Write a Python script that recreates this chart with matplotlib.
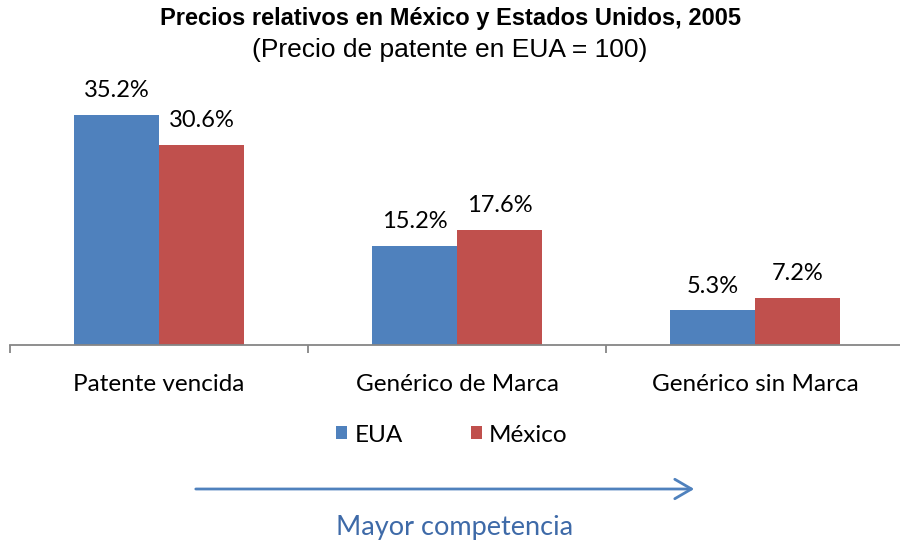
import matplotlib
matplotlib.use('Agg')
import matplotlib.pyplot as plt
import numpy as np

categorias = ['Patente vencida', 'Genérico de Marca', 'Genérico sin Marca']
eua = [35.2, 15.2, 5.3]
mexico = [30.6, 17.6, 7.2]
etiquetas_eua = ['35.2%', '15.2%', '5.3%']
etiquetas_mex = ['30.6%', '17.6%', '7.2%']

c_eua = '#4F81BD'
c_mex = '#C0504D'
fuente = ['Lato', 'DejaVu Sans']

fig = plt.figure(figsize=(9, 5.44), dpi=100)
# axes in figure pixels: x 10..904, baseline at y=345
ax = fig.add_axes([10/900, 1-345/544, 894/900, 260/544])
x = np.arange(len(categorias))
w = 0.285
b1 = ax.bar(x - w/2, eua, w, color=c_eua, label='EUA')
b2 = ax.bar(x + w/2, mexico, w, color=c_mex, label='México')
ax.set_xlim(-0.5, 2.5)
ax.set_ylim(0, 260/6.53)

for bars, labs in ((b1, etiquetas_eua), (b2, etiquetas_mex)):
    for r, t in zip(bars, labs):
        ax.annotate(t, (r.get_x() + r.get_width()/2, r.get_height()),
                    xytext=(0, 10), textcoords='offset points', ha='center', va='bottom',
                    fontsize=17, family=fuente, color='#000000')

for s in ['top', 'right', 'left']:
    ax.spines[s].set_visible(False)
ax.spines['bottom'].set_color('#868686')
ax.spines['bottom'].set_linewidth(1.3)
ax.set_yticks([])
ax.set_xticks([-0.5, 0.5, 1.5, 2.5])
ax.set_xticklabels([])
ax.set_xticks(x, minor=True)
ax.set_xticklabels(categorias, minor=True, fontsize=17.5, family=fuente)
ax.tick_params(axis='x', which='major', length=6, width=1.3, color='#868686', direction='out')
ax.tick_params(axis='x', which='minor', length=0, pad=21)

fig.text(0.5, 1-18/544, 'Precios relativos en México y Estados Unidos, 2005', ha='center', va='center',
         fontsize=17, fontweight='bold', family=['Liberation Sans', 'DejaVu Sans'])
fig.text(0.5, 1-50/544, '(Precio de patente en EUA = 100)', ha='center', va='center',
         fontsize=19, family=['Liberation Sans', 'DejaVu Sans'])

fig.legend(handles=[b1, b2], labels=['EUA', 'México'], loc='center', bbox_to_anchor=(452/900, 1-435/544),
           ncol=2, frameon=False, prop={'family': fuente, 'size': 17.5}, handlelength=0.45, handleheight=0.45,
           handletextpad=0.3, columnspacing=2.8)

fig.add_artist(matplotlib.patches.FancyArrowPatch((193/900, 1-489/544), (697/900, 1-489/544),
               transform=fig.transFigure, arrowstyle='->,head_length=12,head_width=7',
               color=c_eua, lw=2, mutation_scale=1))
fig.text(455/900, 1-527/544, 'Mayor competencia', ha='center', va='center', fontsize=19.5,
         family=fuente, color='#3E6AA8')

fig.savefig('out.png', dpi=100)
